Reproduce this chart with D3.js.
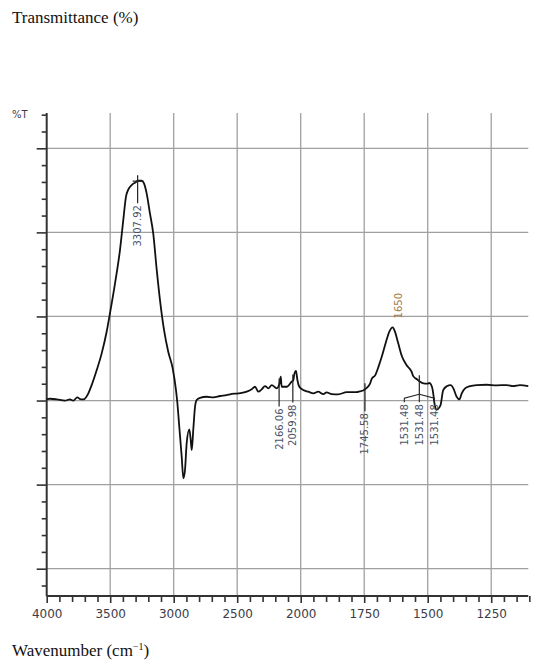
<!DOCTYPE html>
<html>
<head>
<meta charset="utf-8">
<script src="https://cdn.jsdelivr.net/npm/d3@7"></script>
<style>
  html, body { margin: 0; padding: 0; background: #fff; }
  svg { display: block; }
</style>
</head>
<body>
<svg id="chart" width="550" height="663"></svg>
<script>
// ---- data ----
const wavenumbers = [4000,3974,3921,3856,3817,3791,3759,3738,3712,3672,3646,3606,3567,3528,3502,3462,3423,3397,3376,3357,3331,3305,3279,3252,3234,3213,3187,3161,3134,3108,3076,3043,3008,2982,2972,2956,2937,2924,2911,2898,2877,2866,2858,2846,2832,2819,2793,2740,2688,2635,2583,2557,2491,2425,2386,2360,2334,2307,2281,2255,2228,2189,2168,2157,2150,2110,2071,2058,2050,2037,2026,2011,1990,1970,1950,1931,1911,1898,1878,1852,1819,1780,1767,1754,1740,1727,1720,1707,1694,1681,1664,1651,1638,1629,1616,1602,1583,1563,1557,1541,1533,1511,1500,1494,1484,1478,1475,1471,1465,1459,1449,1439,1425,1409,1399,1386,1375,1366,1353,1333,1307,1268,1228,1189,1163,1137,1104];
const transmittance = [30.18,30.21,30.14,29.98,30.14,29.98,30.38,30.18,30.14,30.86,31.84,33.63,35.61,38.18,40.37,43.94,47.90,51.46,54.23,55.11,55.63,55.90,56.14,56.14,55.83,54.64,52.26,49.86,45.60,41.95,38.38,35.8,33.83,31.25,29.86,26.88,23.32,20.75,21.74,24.91,26.58,25.30,24.11,26.49,29.26,30.06,30.33,30.45,30.38,30.54,30.65,30.74,30.86,31.05,31.33,31.64,31.05,31.33,31.72,31.45,31.84,31.45,31.96,32.83,31.64,31.64,32.24,32.44,33.15,33.54,32.44,31.64,31.25,31.05,30.86,31.05,30.77,30.97,30.77,30.74,31.0,31.0,31.1,31.2,31.5,32.0,32.6,33.0,34.0,35.2,37.0,38.2,38.7,38.2,36.8,35.3,34.2,33.4,32.9,32.5,32.3,32.0,32.0,32.1,31.7,30.8,30.0,29.3,28.9,29.0,29.5,31.25,31.7,31.84,31.45,30.45,30.14,30.86,31.45,31.72,31.84,31.88,31.81,31.84,31.72,31.84,31.72];

const xMajorTicks = [4000,3500,3000,2500,2000,1750,1500,1250];
const xMinorTicks = [3900,3800,3700,3600,3400,3300,3200,3100,2900,2800,2700,2600,2400,2300,2200,2100,1950,1900,1850,1800,1700,1650,1600,1550,1450,1400,1350,1300,1200,1150,1100];
const yMajorTicks = [10,20,30,40,50,60];
const yMinorTicks = [8,12,14,16,18,22,24,26,28,32,34,36,38,42,44,46,48,52,54,56,58,62,64];

const peakLabels = ["3307.92","2166.06","2059.98","1745.58"];
const peakPositions = [3284,2170,2062,1747];
const groupLabel = "1531.48";
const groupPosition = 1533;
const topLabel = "1650";
const topLabelPosition = 1615;

// ---- scales ----
const svg = d3.select("#chart");
const x = d3.scaleLinear().domain([4000, 2000, 1104]).range([46.7, 300.7, 528.3]);
const y = d3.scaleLinear().domain([10, 60]).range([568.7, 148.3]);
const yBottom = 6.75, yTop = 64.2;
const xLeft = 4000, xRight = 1104;

const data = wavenumbers.map((w, i) => ({w, t: transmittance[i]}));
const interp = w => {
  for (let i = 0; i < data.length - 1; i++) {
    const a = data[i], b = data[i + 1];
    if (w <= a.w && w >= b.w) return a.t + (b.t - a.t) * (a.w - w) / (a.w - b.w);
  }
  return data[data.length - 1].t;
};

// ---- titles ----
svg.append("text").attr("x", 12).attr("y", 23)
  .attr("font-family", "Liberation Serif, serif").attr("font-size", 17).attr("fill", "#111")
  .text("Transmittance (%)");

const xt = svg.append("text").attr("x", 12).attr("y", 656)
  .attr("font-family", "Liberation Serif, serif").attr("font-size", 17).attr("fill", "#111");
xt.append("tspan").text("Wavenumber (cm");
xt.append("tspan").attr("font-size", 10).attr("dy", -6).text("−1");
xt.append("tspan").attr("dy", 6).text(")");

// ---- grid ----
const grid = svg.append("g").attr("stroke", "#a0a0a0").attr("stroke-width", 1.3);
grid.selectAll("line.h").data(yMajorTicks).join("line")
  .attr("x1", x(xLeft)).attr("x2", x(xRight))
  .attr("y1", d => y(d)).attr("y2", d => y(d));
grid.selectAll("line.v").data(xMajorTicks.slice(1)).join("line")
  .attr("x1", d => x(d)).attr("x2", d => x(d))
  .attr("y1", y(yTop)).attr("y2", y(yBottom));

// ---- axes ----
const axisFont = "DejaVu Sans, sans-serif";
const xAxisG = svg.append("g").attr("transform", `translate(0,${y(yBottom)})`)
  .call(d3.axisBottom(x).tickValues(xMajorTicks).tickSize(7).tickPadding(6).tickFormat(d3.format("d")));
xAxisG.select(".domain").remove();
xAxisG.selectAll("text").attr("font-family", axisFont).attr("font-size", 12).attr("fill", "#3c3c48");
xAxisG.selectAll("line").attr("stroke", "#333").attr("stroke-width", 1.6);

const xMinorG = svg.append("g").attr("transform", `translate(0,${y(yBottom)})`)
  .call(d3.axisBottom(x).tickValues(xMinorTicks).tickSize(6).tickFormat(""));
xMinorG.select(".domain").remove();
xMinorG.selectAll("line").attr("stroke", "#333").attr("stroke-width", 1.6);

const yAxisG = svg.append("g").attr("transform", `translate(${x(xLeft)},0)`)
  .call(d3.axisLeft(y).tickValues(yMajorTicks).tickSize(10).tickFormat(""));
yAxisG.select(".domain").remove();
yAxisG.selectAll("line").attr("stroke", "#333").attr("stroke-width", 1.6);

const yMinorG = svg.append("g").attr("transform", `translate(${x(xLeft)},0)`)
  .call(d3.axisLeft(y).tickValues(yMinorTicks).tickSize(5).tickFormat(""));
yMinorG.select(".domain").remove();
yMinorG.selectAll("line").attr("stroke", "#333").attr("stroke-width", 1.6);

svg.append("line").attr("x1", x(xLeft)).attr("x2", x(xRight))
  .attr("y1", y(yBottom)).attr("y2", y(yBottom)).attr("stroke", "#333").attr("stroke-width", 2);
svg.append("line").attr("x1", x(xLeft)).attr("x2", x(xLeft))
  .attr("y1", y(yTop)).attr("y2", y(yBottom)).attr("stroke", "#333").attr("stroke-width", 2);

svg.append("text").attr("x", 12).attr("y", 118)
  .attr("font-family", axisFont).attr("font-size", 10).attr("fill", "#3c3c48").text("%T");

// ---- spectrum ----
svg.append("path").datum(data)
  .attr("fill", "none").attr("stroke", "#111").attr("stroke-width", 1.8).attr("stroke-linejoin", "round")
  .attr("d", d3.line().x(d => x(d.w)).y(d => y(d.t)).curve(d3.curveMonotoneX));

// ---- peak markers ----
const labelFont = "DejaVu Sans, sans-serif";
const mk = svg.append("g");
peakLabels.forEach((lab, i) => {
  const px = x(peakPositions[i]);
  const cy = y(interp(peakPositions[i]));
  const top = cy - 6, bottom = top + 28;
  mk.append("line").attr("x1", px).attr("x2", px).attr("y1", top).attr("y2", bottom)
    .attr("stroke", "#222").attr("stroke-width", 1.2);
  if (i === 0) {
    mk.append("line").attr("x1", px - 5).attr("x2", px + 5).attr("y1", cy).attr("y2", cy)
      .attr("stroke", "#222").attr("stroke-width", 1.2);
  }
  mk.append("text").attr("transform", `translate(${px},${bottom + 2}) rotate(-90)`)
    .attr("text-anchor", "end").attr("dy", "0.35em")
    .attr("font-family", labelFont).attr("font-size", 10).attr("fill", "#4a5468").text(lab);
});

// 1531.48 group (three labels from one marker)
{
  const px = x(groupPosition);
  const cy = y(interp(groupPosition));
  const stemTop = cy - 6, stemBottom = cy + 13;
  mk.append("line").attr("x1", px).attr("x2", px).attr("y1", stemTop).attr("y2", stemBottom)
    .attr("stroke", "#222").attr("stroke-width", 1.2);
  [-15, 0, 15].forEach(off => {
    const lx = px + off;
    mk.append("polyline")
      .attr("points", `${px},${stemBottom} ${lx},${stemBottom + 4} ${lx},${stemBottom + 8}`)
      .attr("fill", "none").attr("stroke", "#222").attr("stroke-width", 1.1);
    mk.append("text").attr("transform", `translate(${lx},${stemBottom + 10}) rotate(-90)`)
      .attr("text-anchor", "end").attr("dy", "0.35em")
      .attr("font-family", labelFont).attr("font-size", 10).attr("fill", "#4a5468").text(groupLabel);
  });
}

// 1650 label above the band
{
  const px = x(topLabelPosition);
  const cy = y(interp(1638));
  mk.append("text").attr("transform", `translate(${px},${cy - 9}) rotate(-90)`)
    .attr("text-anchor", "start").attr("dy", "0.35em")
    .attr("font-family", labelFont).attr("font-size", 10)
    .attr("fill", "#a87a45").text(topLabel);
}
</script>
</body>
</html>
